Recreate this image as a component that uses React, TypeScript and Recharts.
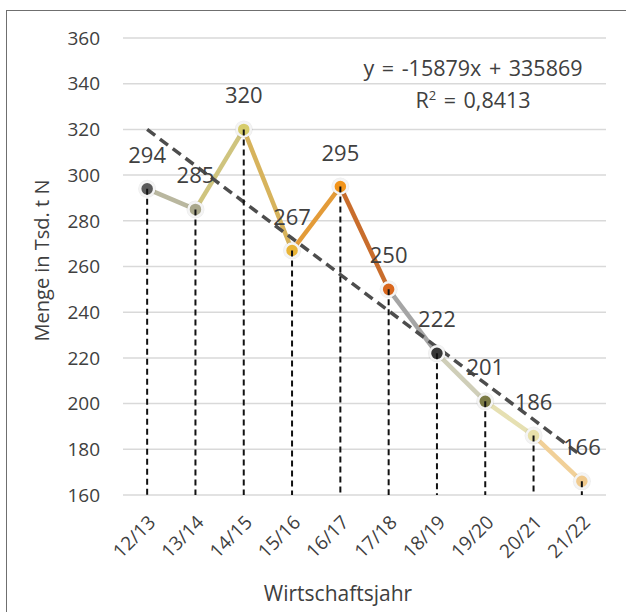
import React from 'react';
import { ComposedChart, Line, XAxis, YAxis, CartesianGrid, LabelList, Label } from 'recharts';

// Wirtschaftsjahre
const categories = ['12/13', '13/14', '14/15', '15/16', '16/17', '17/18', '18/19', '19/20', '20/21', '21/22'];
// Menge in Tsd. t N
const values = [294, 285, 320, 267, 295, 250, 222, 201, 186, 166];
const yTicks = [160, 180, 200, 220, 240, 260, 280, 300, 320, 340, 360];

// linear trend as printed in the chart (x = 1..10, result in t N)
const trendSlope = -15879;
const trendIntercept = 335869;

const markerColors = ['#5a5a5a', '#a9a78b', '#d6cc6a', '#e9b436', '#f2941a', '#d9661c', '#363636', '#7b7a45', '#e8e0aa', '#f0ca8e'];
const segmentColors = ['#b9b79f', '#cfc47e', '#d7b35c', '#e39b38', '#c96d2c', '#a5a5a5', '#cfceb8', '#e6e0b2', '#f1d098'];

const TEXT = '#404040';
const PLOT_BOTTOM = 495;

const chartData = categories.map((name, i) => {
    const row: Record<string, string | number | null> = {
        name,
        value: values[i],
        trend: (trendSlope * (i + 1) + trendIntercept) / 1000,
    };
    segmentColors.forEach((_, k) => {
        row[`s${k}`] = i === k || i === k + 1 ? values[i] : null;
    });
    return row;
});

const MarkerDot = (props: any) => {
    const { cx, cy, index } = props;
    if (cx == null || cy == null) return null;
    return (
        <g key={`m-${index}`}>
            <circle cx={cx} cy={cy} r={9} fill="#000" opacity={0.07} />
            <circle cx={cx} cy={cy} r={7} fill={markerColors[index]} stroke="#f4f4f4" strokeWidth={2.5} />
            <line x1={cx} y1={cy} x2={cx} y2={PLOT_BOTTOM} stroke="#111" strokeWidth={2} strokeDasharray="6 4" />
        </g>
    );
};

const RotatedTick = (props: any) => {
    const { x, y, payload } = props;
    return (
        <g transform={`translate(${x + 6},${y + 23})`}>
            <text x={0} y={0} textAnchor="end" dominantBaseline="middle" transform="rotate(-45)" fontSize={19} fill={TEXT}>
                {payload.value}
            </text>
        </g>
    );
};

export default function App() {
    return (
        <div style={{ position: 'fixed', left: 0, top: 0, width: 626, height: 612, background: '#fff', overflow: 'hidden', fontFamily: "'Open Sans', 'Noto Sans', sans-serif" }}>
            {/* frame */}
            <div style={{ position: 'absolute', left: 6, top: 10, width: 640, height: 640, border: '1px solid #6f6f6f' }} />

            <ComposedChart width={626} height={612} data={chartData} margin={{ top: 38, right: 20, bottom: 0, left: 0 }}>
                <CartesianGrid horizontal vertical={false} stroke="#d9d9d9" strokeWidth={1.5} />
                <XAxis
                    dataKey="name"
                    scale="band"
                    height={117}
                    axisLine={false}
                    tickLine={false}
                    tickSize={0}
                    interval={0}
                    tick={<RotatedTick />}
                >
                    <Label
                        content={(p: any) => (
                            <text x={338} y={p.viewBox.y + p.viewBox.height - 11} textAnchor="middle" fontSize={21} fill={TEXT}>
                                Wirtschaftsjahr
                            </text>
                        )}
                    />
                </XAxis>
                <YAxis
                    width={123}
                    domain={[160, 360]}
                    ticks={yTicks}
                    axisLine={false}
                    tickLine={false}
                    tickSize={0}
                    tickMargin={23}
                    tick={{ fontSize: 19, fill: TEXT }}
                >
                    <Label
                        content={(p: any) => {
                            const cx = p.viewBox.x + 44;
                            const cy = p.viewBox.y + p.viewBox.height / 2 - 6;
                            return (
                                <text x={cx} y={cy} transform={`rotate(-90 ${cx} ${cy})`} textAnchor="middle" dominantBaseline="middle" fontSize={20} fill={TEXT}>
                                    Menge in Tsd. t N
                                </text>
                            );
                        }}
                    />
                </YAxis>

                {segmentColors.map((c, k) => (
                    <Line
                        key={`s${k}`}
                        dataKey={`s${k}`}
                        stroke={c}
                        strokeWidth={4.5}
                        dot={false}
                        activeDot={false}
                        connectNulls={false}
                        isAnimationActive={false}
                    />
                ))}

                <Line dataKey="value" stroke="none" dot={<MarkerDot />} activeDot={false} isAnimationActive={false}>
                    <LabelList dataKey="value" position="top" offset={26} fontSize={22} fill={TEXT} />
                </Line>

                <Line
                    dataKey="trend"
                    stroke="#4d4d4d"
                    strokeWidth={3.5}
                    strokeDasharray="10 6"
                    dot={false}
                    activeDot={false}
                    isAnimationActive={false}
                />
            </ComposedChart>

            <div style={{ position: 'absolute', left: 340, width: 266, top: 52, textAlign: 'center', fontSize: 21.5, lineHeight: '32px', color: TEXT, wordSpacing: 2 }}>
                y = -15879x + 335869
                <br />
                R<sup style={{ fontSize: 13, verticalAlign: 'top', lineHeight: '22px' }}>2</sup> = 0,8413
            </div>
        </div>
    );
}
